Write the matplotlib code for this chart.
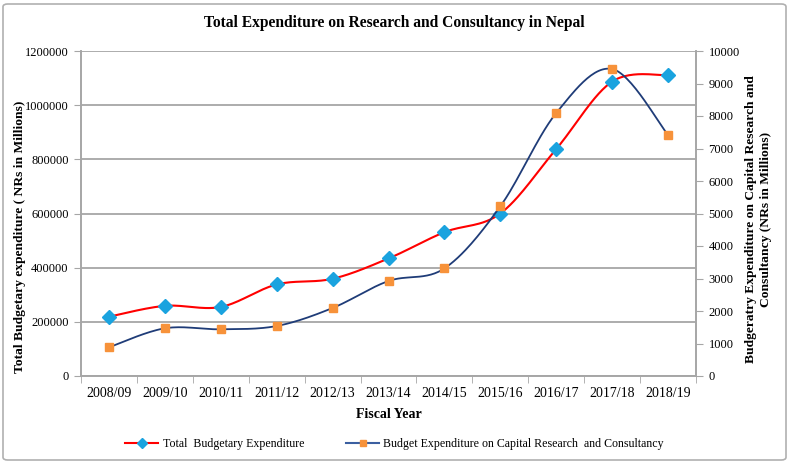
import numpy as np
import matplotlib
matplotlib.use("Agg")
import matplotlib.pyplot as plt
import matplotlib.ticker as mticker
from matplotlib.patches import FancyBboxPatch

plt.rcParams['font.family'] = ['Liberation Serif', 'DejaVu Serif']

years = ['2008/09', '2009/10', '2010/11', '2011/12', '2012/13', '2013/14',
         '2014/15', '2015/16', '2016/17', '2017/18', '2018/19']
total_budget = [219000, 259000, 255000, 338000, 359000, 434000,
                531000, 600000, 838000, 1087000, 1111000]
research_budget = [883, 1468, 1437, 1538, 2092, 2923,
                   3310, 5221, 8092, 9446, 7415]


def smooth(x, y, n=30):
    # excel-like smoothed line (catmull-rom through bezier segments)
    x = np.asarray(x, float)
    y = np.asarray(y, float)
    px = np.concatenate([[x[0]], x, [x[-1]]])
    py = np.concatenate([[y[0]], y, [y[-1]]])
    xs, ys = [], []
    t = np.linspace(0, 1, n)
    for i in range(1, len(px) - 2):
        p0 = np.array([px[i], py[i]])
        p3 = np.array([px[i + 1], py[i + 1]])
        p1 = p0 + (np.array([px[i + 1], py[i + 1]]) - np.array([px[i - 1], py[i - 1]])) / 6
        p2 = p3 - (np.array([px[i + 2], py[i + 2]]) - np.array([px[i], py[i]])) / 6
        b = ((1 - t) ** 3)[:, None] * p0 + (3 * (1 - t) ** 2 * t)[:, None] * p1 \
            + (3 * (1 - t) * t ** 2)[:, None] * p2 + (t ** 3)[:, None] * p3
        xs.extend(b[:, 0])
        ys.extend(b[:, 1])
    return np.array(xs), np.array(ys)


fig = plt.figure(figsize=(7.89, 4.63), dpi=100)
ax1 = fig.add_axes([81 / 789, 1 - 376 / 463, (696 - 81) / 789, (376 - 51) / 463])
ax2 = ax1.twinx()

grey = '#a6a6a6'
x = np.arange(len(years))

sx, sy = smooth(x, total_budget)
ax1.plot(sx, sy, color='#ff0000', lw=1.5, zorder=3)
ax1.plot(x, total_budget, ls='none', marker='D', ms=7, color='#1aa3df', zorder=4)

sx2, sy2 = smooth(x, research_budget)
ax2.plot(sx2, sy2, color='#1f3c78', lw=1.3, zorder=3)
ax2.plot(x, research_budget, ls='none', marker='s', ms=6, color='#f7923a', zorder=4)

ax1.set_xlim(-0.5, len(years) - 0.5)
ax1.set_ylim(0, 1200000)
ax2.set_ylim(0, 10000)
ax1.set_yticks(np.arange(0, 1200001, 200000))
ax2.set_yticks(np.arange(0, 10001, 1000))
ax1.yaxis.set_major_formatter(mticker.FuncFormatter(lambda v, p: '%d' % v))
ax1.set_xticks(x)
ax1.set_xticklabels(years)
ax1.set_xticks(np.arange(-0.5, len(years), 1), minor=True)
ax1.tick_params(axis='x', which='major', length=0, pad=8, labelsize=10)
ax1.tick_params(axis='x', which='minor', length=5, color=grey, direction='out')
ax1.tick_params(axis='y', length=5, color=grey, labelsize=9, pad=4)
ax2.tick_params(axis='y', length=5, color=grey, labelsize=9, pad=4)

ax1.grid(axis='y', color=grey, lw=1.3)
ax1.set_axisbelow(True)
for a in (ax1, ax2):
    a.spines['top'].set_visible(False)
    for s in ('left', 'right', 'bottom'):
        a.spines[s].set_color(grey)
        a.spines[s].set_linewidth(1.2)

ax1.set_xlabel('Fiscal Year', fontsize=10, fontweight='bold', labelpad=6)
ax1.set_ylabel('Total Budgetary expenditure ( NRs in Millions)', fontsize=9.7,
               fontweight='bold', va='center')
ax1.yaxis.set_label_coords(-0.099, 0.428)
ax2.set_ylabel('Budgeratry Expenditure on Capital Research and\nConsultancy (NRs in Millions)',
               fontsize=9.7, fontweight='bold', linespacing=1.25, va='center')
ax2.yaxis.set_label_coords(1.1016, 0.483)

fig.text(0.5, 1 - 23 / 463, 'Total Expenditure on Research and Consultancy in Nepal',
         ha='center', va='center', fontsize=11.2, fontweight='bold')

h1 = plt.Line2D([], [], color='#ff0000', lw=1.5, marker='D', ms=5, mfc='#1aa3df', mec='#1aa3df')
h2 = plt.Line2D([], [], color='#3b5fa0', lw=1.5, marker='s', ms=5, mfc='#f7923a', mec='#f7923a')
fig.legend([h1, h2], ['Total  Budgetary Expenditure',
                      'Budget Expenditure on Capital Research  and Consultancy'],
           loc='center', bbox_to_anchor=(0.5, 1 - 444 / 463), ncol=2, frameon=False,
           fontsize=8.6, handlelength=2.8, handletextpad=0.35, columnspacing=3.5)

border = FancyBboxPatch((3 / 789, 3 / 463), 783 / 789, 456 / 463,
                        boxstyle='round,pad=0,rounding_size=0.006', transform=fig.transFigure,
                        fill=False, edgecolor='#b0b0b0', lw=1.2)
fig.patches.append(border)

fig.savefig('out.png', dpi=100)
